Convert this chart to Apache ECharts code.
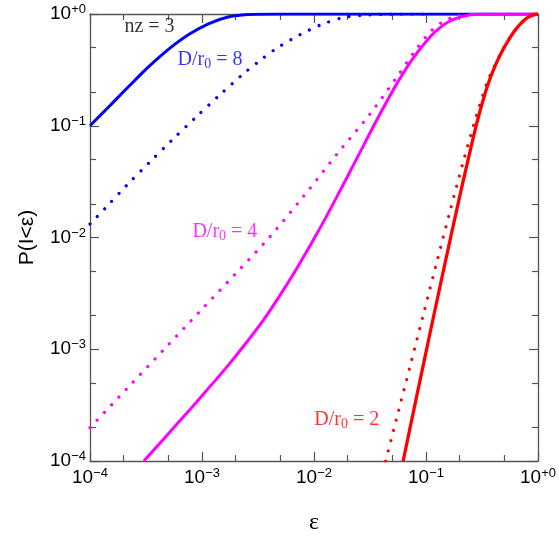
<!DOCTYPE html>
<html>
<head>
<meta charset="utf-8">
<script src="https://cdn.jsdelivr.net/npm/echarts@6/dist/echarts.min.js"></script>
<style>html,body{margin:0;padding:0;background:#fff;}#c{width:559px;height:541px;}</style>
</head>
<body>
<div id="c"></div>
<script>
// ---- data ----
const tickExponents = ['−4', '−3', '−2', '−1', '+0'];
const minorTickValues = [2e-4, 5e-4, 2e-3, 5e-3, 2e-2, 5e-2, 2e-1, 5e-1];

const blueSolidX = [1.0e-4, 1.503e-4, 2.26e-4, 3.4e-4, 5.11e-4, 7.67e-4, 1.153e-3, 1.734e-3, 2.28e-3, 3.16e-3, 5.0e-3, 1.0e-2, 1.0];
const blueSolidY = [0.100, 0.151, 0.229, 0.343, 0.490, 0.658, 0.822, 0.944, 0.982, 0.995, 1.0, 1.0, 1.0];

const blueDotX = [1.0e-4, 1.36e-4, 2.14e-4, 3.4e-4, 5.4e-4, 8.79e-4, 1.41e-3, 2.28e-3, 3.19e-3, 4.49e-3, 6.3e-3, 8.85e-3, 1.245e-2, 1.87e-2, 3.0e-2, 5.0e-2, 1.0e-1];
const blueDotY = [0.0132, 0.0182, 0.0295, 0.0471, 0.0745, 0.119, 0.185, 0.285, 0.374, 0.483, 0.593, 0.710, 0.826, 0.933, 0.98, 0.997, 1.0];

const magSolidX = [3.027e-4, 4.467e-4, 6.310e-4, 8.913e-4, 1.259e-3, 1.778e-3, 2.512e-3, 3.548e-3, 5.012e-3, 7.079e-3, 0.01, 0.01259, 0.01585, 0.01995, 0.02512, 0.03715, 0.05495, 0.07762, 0.1096, 0.1413, 0.1778, 0.2512, 0.3548, 1.0];
const magSolidY = [1.0e-4, 1.545e-4, 2.275e-4, 3.357e-4, 5.00e-4, 7.52e-4, 1.161e-3, 1.832e-3, 3.083e-3, 5.370e-3, 9.75e-3, 0.01476, 0.02275, 0.03532, 0.05521, 0.1172, 0.2382, 0.4093, 0.6304, 0.7916, 0.9004, 0.9851, 1.0, 1.0];

const magDotX = [1.0e-4, 2.138e-4, 4.519e-4, 9.727e-4, 2.051e-3, 3.981e-3, 7.943e-3, 0.01585, 0.03162, 0.05534, 0.07780, 0.1091, 0.1413, 0.1905, 0.2818, 0.3981];
const magDotY = [1.986e-4, 4.446e-4, 9.840e-4, 2.218e-3, 4.887e-3, 0.01, 0.02291, 0.05495, 0.1274, 0.2754, 0.4519, 0.6918, 0.8511, 0.9594, 0.9954, 1.0];

const redSolidX = [0.0625, 0.0724, 0.0832, 0.0955, 0.1091, 0.1259, 0.1435, 0.1641, 0.1879, 0.2138, 0.2455, 0.2818, 0.3192, 0.3548, 0.3981, 0.4571, 0.5212, 0.6026, 0.6839, 0.7943, 0.8974, 1.0];
const redSolidY = [1.0e-4, 2.03e-4, 3.94e-4, 7.59e-4, 1.426e-3, 2.786e-3, 5.13e-3, 9.51e-3, 0.01762, 0.03141, 0.05728, 0.1023, 0.1622, 0.2291, 0.3126, 0.4246, 0.5420, 0.6823, 0.7998, 0.9183, 0.9772, 1.0];

const redDotX = [0.04365, 0.05623, 0.07244, 0.0955, 0.1259, 0.1637, 0.2138, 0.2818, 0.3548, 0.3981, 0.4571, 0.5212, 0.6026, 0.6839, 0.7943, 0.8974, 1.0];
const redDotY = [1.0e-4, 2.685e-4, 7.21e-4, 2.118e-3, 6.22e-3, 0.01718, 0.04677, 0.1230, 0.2512, 0.3236, 0.4315, 0.5470, 0.6855, 0.8017, 0.9183, 0.9772, 1.0];

const annotText = ['nz = 3', 'D/r{sub|0} = 8', 'D/r{sub|0} = 4', 'D/r{sub|0} = 2'];
const annotX = [3.4e-4, 1.18e-3, 1.6e-3, 1.96e-2];
const annotY = [0.765, 0.387, 0.0112, 2.33e-4];
const annotColor = ['#000000', '#0000ff', '#ff00ff', '#ff0000'];

// ---- build ----
const zip = (xs, ys) => xs.map((x, i) => [x, ys[i]]);
const AX = '#555';
const sans = 'Liberation Sans, Arial, sans-serif';
const serif = 'Liberation Serif, Times New Roman, serif';

function tickLabel(v) {
  const e = Math.round(Math.log10(v));
  return '10{s|' + tickExponents[e + 4] + '}';
}
const labelRich = {
  s: { fontSize: 13, fontFamily: sans, color: '#000', padding: [0, 0, 9, 0] }
};

function ax(pos, minor, showLine, showLabel) {
  const o = {
    type: 'log', min: 1e-4, max: 1, position: pos, logBase: 10,
    axisLine: { show: showLine, onZero: false, lineStyle: { color: AX, width: 1.3 } },
    axisTick: { show: true, inside: true, length: minor ? 6 : 9, lineStyle: { color: AX, width: 1.2 } },
    axisLabel: { show: showLabel, formatter: tickLabel, fontSize: 19, fontFamily: sans, color: '#000', margin: 6, rich: labelRich },
    splitLine: { show: false }, minorTick: { show: false }
  };
  if (minor) o.axisTick.customValues = minorTickValues;
  return o;
}

const xAxes = [ax('bottom', false, true, true), ax('bottom', true, false, false), ax('top', false, true, false), ax('top', true, false, false)];
xAxes[0].name = 'ε';
xAxes[0].nameLocation = 'middle';
xAxes[0].nameGap = 50;
xAxes[0].nameTextStyle = { fontSize: 24, fontFamily: serif, color: '#000' };

const yAxes = [ax('left', false, true, true), ax('left', true, false, false), ax('right', false, true, false), ax('right', true, false, false)];
yAxes.forEach(a => { a.axisLabel.margin = 4; });
yAxes[0].name = 'P(I<ε)';
yAxes[0].nameLocation = 'middle';
yAxes[0].nameGap = 52;
yAxes[0].nameRotate = 90;
yAxes[0].nameTextStyle = { fontSize: 21, fontFamily: sans, color: '#000' };

function solid(data, color, w) {
  return { type: 'line', data: data, showSymbol: false, smooth: 0.3, xAxisIndex: 0, yAxisIndex: 0,
    lineStyle: { color: color, width: w }, silent: true, animation: false, clip: true };
}
function dotted(data, color) {
  return { type: 'line', data: data, showSymbol: false, smooth: 0.3, xAxisIndex: 0, yAxisIndex: 0,
    lineStyle: { color: color, width: 3.2, type: [0.01, 10.5], cap: 'round' }, silent: true, animation: false, clip: true };
}

const annotData = annotText.map((t, i) => ({ value: [annotX[i], annotY[i]], label: { formatter: t, color: annotColor[i] } }));

const option = {
  backgroundColor: '#fff',
  animation: false,
  grid: { left: 90, right: 17, top: 14, bottom: 80, containLabel: false },
  xAxis: xAxes,
  yAxis: yAxes,
  series: [
    dotted(zip(blueDotX, blueDotY), '#0000ff'),
    solid(zip(blueSolidX, blueSolidY), '#0000ff', 3),
    dotted(zip(magDotX, magDotY), '#ff00ff'),
    solid(zip(magSolidX, magSolidY), '#ff00ff', 3),
    dotted(zip(redDotX, redDotY), '#ff0000'),
    solid(zip(redSolidX, redSolidY), '#ff0000', 3.3),
    {
      type: 'scatter', data: annotData, symbolSize: 0, xAxisIndex: 0, yAxisIndex: 0, silent: true,
      itemStyle: { color: 'transparent' },
      label: { show: true, position: [0, 0], align: 'center', verticalAlign: 'middle',
        fontSize: 20, fontFamily: serif, textBorderWidth: 0,
        rich: { sub: { fontSize: 14, fontFamily: serif, padding: [9, 0, 0, 0] } } }
    }
  ]
};

const chart = echarts.init(document.getElementById('c'), null, { renderer: 'canvas' });
chart.setOption(option);
</script>
</body>
</html>
